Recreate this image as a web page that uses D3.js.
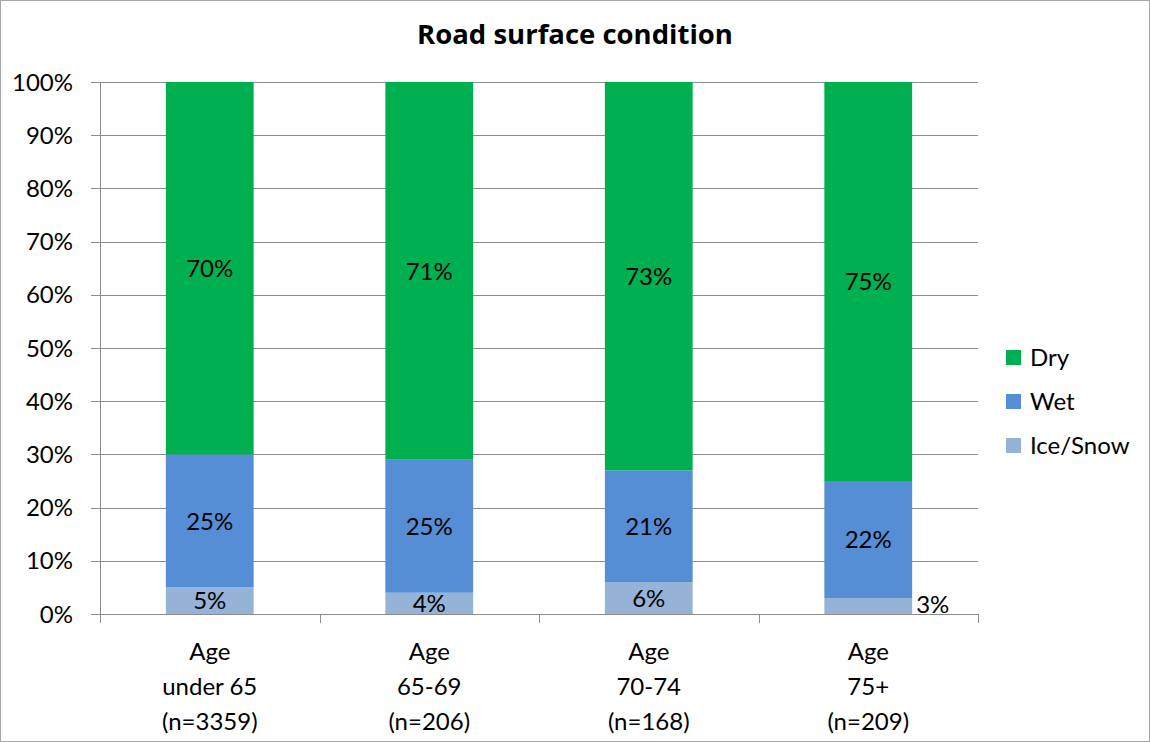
<!DOCTYPE html>
<html>
<head>
<meta charset="utf-8">
<script src="https://cdn.jsdelivr.net/npm/d3@7"></script>
<style>
  html, body { margin: 0; padding: 0; background: #fff; }
  svg { display: block; font-family: Lato, "Open Sans", sans-serif; }
</style>
</head>
<body>
<svg id="chart" width="1150" height="742"></svg>
<script>
// Road surface condition by driver age group (shares of crashes, %)
const categories = [
  ["Age", "under 65", "(n=3359)"],
  ["Age", "65-69", "(n=206)"],
  ["Age", "70-74", "(n=168)"],
  ["Age", "75+", "(n=209)"]
];
const seriesNames = ["Ice/Snow", "Wet", "Dry"];
const iceSnow = [5, 4, 6, 3];
const wet = [25, 25, 21, 22];
const dry = [70, 71, 73, 75];
const yTicks = [0, 10, 20, 30, 40, 50, 60, 70, 80, 90, 100];
const colors = { "Dry": "#00B050", "Wet": "#558ED5", "Ice/Snow": "#95B3D7" };
const legendOrder = ["Dry", "Wet", "Ice/Snow"];

const svg = d3.select("#chart");
const W = 1150, H = 742;
const plot = { left: 100, right: 978, top: 82, bottom: 614 };

// chart area border
svg.append("rect").attr("x", 0.5).attr("y", 0.5).attr("width", W - 1).attr("height", H - 1)
  .attr("fill", "#fff").attr("stroke", "#a6a6a6");

svg.append("text").attr("x", 575).attr("y", 44).attr("text-anchor", "middle")
  .attr("font-family", "'Open Sans', Lato, sans-serif")
  .attr("font-weight", "bold").attr("font-size", 27.5).attr("fill", "#000")
  .text("Road surface condition");

const x = d3.scaleBand().domain(d3.range(categories.length))
  .range([plot.left, plot.right]).padding(0);
const y = d3.scaleLinear().domain([0, 100]).range([plot.bottom, plot.top]);

// gridlines with left tick stubs
svg.append("g").selectAll("line").data(yTicks).join("line")
  .attr("x1", plot.left - 9).attr("x2", plot.right)
  .attr("y1", d => Math.round(y(d)) + 0.5).attr("y2", d => Math.round(y(d)) + 0.5)
  .attr("stroke", "#8c8c8c").attr("stroke-width", 1);

// y axis line
svg.append("line").attr("x1", plot.left + 0.5).attr("x2", plot.left + 0.5)
  .attr("y1", plot.top).attr("y2", plot.bottom).attr("stroke", "#8c8c8c");

// x axis category separators
const seps = d3.range(categories.length + 1).map(i => i === categories.length ? plot.right : x(i));
svg.append("g").selectAll("line").data(seps).join("line")
  .attr("x1", d => Math.round(d) + 0.5).attr("x2", d => Math.round(d) + 0.5)
  .attr("y1", plot.bottom).attr("y2", plot.bottom + 9)
  .attr("stroke", "#8c8c8c");

// y tick labels
svg.append("g").selectAll("text").data(yTicks).join("text")
  .attr("x", 73).attr("y", d => y(d)).attr("dy", "0.36em")
  .attr("text-anchor", "end").attr("font-size", 24).attr("fill", "#000")
  .text(d => d + "%");

// stacked bars
const rows = categories.map((c, i) => ({ i, "Ice/Snow": iceSnow[i], "Wet": wet[i], "Dry": dry[i] }));
const stack = d3.stack().keys(seriesNames)(rows);
const barW = x.bandwidth() * 0.4;
const barX = i => x(i) + (x.bandwidth() - barW) / 2;

const layers = svg.append("g").selectAll("g").data(stack).join("g")
  .attr("fill", d => colors[d.key]);
layers.selectAll("rect").data(d => d).join("rect")
  .attr("x", (d, j) => barX(j)).attr("width", barW)
  .attr("y", d => y(d[1])).attr("height", d => y(d[0]) - y(d[1]));

// value labels
stack.forEach(layer => {
  layer.forEach((d, j) => {
    const v = d[1] - d[0];
    const small = y(d[0]) - y(d[1]) < 20;
    svg.append("text")
      .attr("x", small ? barX(j) + barW + 4 : barX(j) + barW / 2)
      .attr("y", (y(d[0]) + y(d[1])) / 2 - (small ? 2 : 0))
      .attr("dy", "0.36em")
      .attr("text-anchor", small ? "start" : "middle")
      .attr("font-size", 24).attr("fill", "#000")
      .text(v + "%");
  });
});

// category labels
const cat = svg.append("g").selectAll("text").data(categories).join("text")
  .attr("x", (d, i) => x(i) + x.bandwidth() / 2)
  .attr("text-anchor", "middle").attr("font-size", 24).attr("fill", "#000");
cat.selectAll("tspan").data(d => d).join("tspan")
  .attr("x", function () { return d3.select(this.parentNode).attr("x"); })
  .attr("y", (d, k) => 660 + k * 35)
  .text(d => d);

// legend
const lg = svg.append("g").selectAll("g").data(legendOrder).join("g")
  .attr("transform", (d, k) => `translate(1006, ${350 + k * 44})`);
lg.append("rect").attr("width", 15).attr("height", 15).attr("fill", d => colors[d]);
lg.append("text").attr("x", 24).attr("y", 7.5).attr("dy", "0.36em")
  .attr("font-size", 24).attr("fill", "#000").text(d => d);
</script>
</body>
</html>
